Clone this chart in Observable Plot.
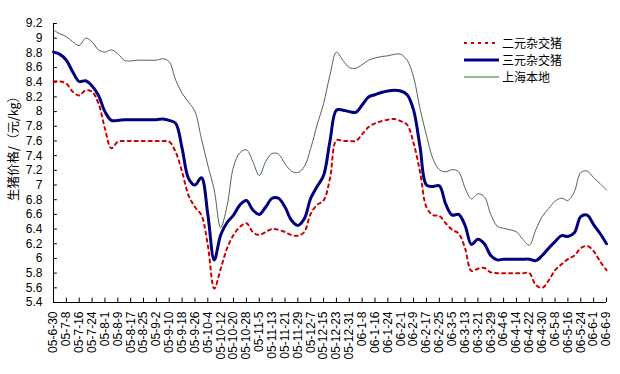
<!DOCTYPE html>
<html><head><meta charset="utf-8">
<script src="https://cdn.jsdelivr.net/npm/d3@7"></script>
<script src="https://cdn.jsdelivr.net/npm/@observablehq/plot@0.6"></script>
<style>
body{margin:0;background:#fff}
#wrap{position:relative;width:620px;height:374px}
.leg{position:absolute;left:464px;top:34px;font-family:"Noto Sans CJK SC";font-size:12px;color:#000}
.leg .r{position:absolute;left:0;height:17px;white-space:nowrap}
.leg svg{position:absolute;left:0;top:5px}
.leg span{position:absolute;left:38px;top:0;line-height:17px;height:17px}
</style>
</head><body><div id="wrap"></div>
<script>
// x tick labels (every 8 days); data points every 4 days (2 per label)
const labels = ["05-6-30","05-7-8","05-7-16","05-7-24","05-8-1","05-8-9","05-8-17","05-8-25","05-9-2","05-9-10","05-9-18","05-9-26","05-10-4","05-10-12","05-10-20","05-10-28","05-11-5","05-11-13","05-11-21","05-11-29","05-12-7","05-12-15","05-12-23","05-12-31","06-1-8","06-1-16","06-1-24","06-2-1","06-2-9","06-2-17","06-2-25","06-3-5","06-3-13","06-3-21","06-3-29","06-4-6","06-4-14","06-4-22","06-4-30","06-5-8","06-5-16","06-5-24","06-6-1","06-6-9"];
const seriesNames = ["二元杂交猪","三元杂交猪","上海本地"];
const erYuan = [8.41,8.41,8.38,8.27,8.22,8.29,8.27,8.11,7.77,7.50,7.59,7.60,7.60,7.60,7.60,7.60,7.60,7.60,7.59,7.45,7.18,6.86,6.70,6.59,6.18,5.59,5.86,6.14,6.32,6.43,6.48,6.36,6.32,6.36,6.40,6.39,6.36,6.32,6.31,6.36,6.61,6.73,6.79,7.09,7.61,7.60,7.60,7.60,7.69,7.79,7.84,7.87,7.89,7.90,7.87,7.82,7.57,7.18,6.70,6.59,6.58,6.48,6.39,6.34,6.14,5.83,5.86,5.87,5.81,5.80,5.80,5.80,5.80,5.80,5.80,5.64,5.60,5.70,5.84,5.92,5.99,6.04,6.14,6.17,6.10,5.96,5.84];
const sanYuan = [8.81,8.78,8.70,8.54,8.41,8.42,8.35,8.22,8.00,7.88,7.88,7.89,7.89,7.89,7.89,7.89,7.89,7.90,7.88,7.84,7.50,7.09,7.00,7.10,6.60,5.98,6.32,6.49,6.59,6.73,6.79,6.66,6.60,6.70,6.82,6.82,6.70,6.52,6.45,6.54,6.82,6.98,7.13,7.60,8.02,8.02,8.00,7.99,8.09,8.20,8.23,8.26,8.28,8.29,8.28,8.23,8.02,7.52,7.00,6.98,6.99,6.74,6.59,6.60,6.45,6.19,6.26,6.20,6.04,5.98,5.99,5.99,5.99,5.99,5.99,5.97,6.04,6.14,6.23,6.31,6.30,6.35,6.57,6.59,6.46,6.34,6.20];
const shanghai = [9.11,9.06,9.02,8.95,8.90,9.00,8.95,8.84,8.81,8.84,8.79,8.70,8.69,8.70,8.70,8.70,8.70,8.72,8.68,8.43,8.25,8.13,8.00,7.63,7.27,6.93,6.42,6.72,7.25,7.44,7.48,7.32,7.13,7.32,7.43,7.42,7.29,7.19,7.17,7.25,7.50,7.82,8.11,8.50,8.81,8.70,8.60,8.59,8.64,8.70,8.73,8.75,8.76,8.78,8.78,8.70,8.47,8.04,7.68,7.36,7.21,7.18,7.21,7.18,6.96,6.81,6.88,6.84,6.60,6.44,6.41,6.39,6.36,6.26,6.18,6.39,6.57,6.68,6.78,6.82,6.79,6.91,7.17,7.19,7.10,7.02,6.93];
const yTicks = d3.range(27, 47).map(d => d / 5);

const row = arr => arr.map((v, j) => ({j, v}));
const tickIdx = labels.map((_, i) => i * 2);
const nLast = erYuan.length - 1;

const chart = Plot.plot({
  width: 620, height: 374,
  marginLeft: 53, marginRight: 14, marginTop: 23, marginBottom: 72,
  style: {fontFamily: "Liberation Sans", fontSize: "12px", background: "#fff", color: "#000", overflow: "visible"},
  x: {domain: [0, nLast]},
  y: {domain: [5.4, 9.2]},
  marks: [
    Plot.axisY({ticks: yTicks, tickSize: 0, tickPadding: 11, tickFormat: d3.format("~g"), label: null, fontSize: 12}),
    Plot.axisX({ticks: tickIdx, tickSize: 0, tickPadding: 9, tickRotate: -90, tickFormat: j => labels[j / 2], label: null, fontSize: 12}),
    Plot.ruleY(yTicks, {y: d => d, x1: 0, x2: 0.6, stroke: "#000"}),
    Plot.ruleX(tickIdx, {x: d => d, y1: 5.4, y2: 5.46, stroke: "#000"}),
    Plot.ruleX([0], {stroke: "#000"}),
    Plot.ruleY([5.4], {stroke: "#000"}),
    Plot.line(row(shanghai), {x: "j", y: "v", stroke: "#4a6a4a", strokeWidth: 1, curve: "catmull-rom"}),
    Plot.line(row(erYuan), {x: "j", y: "v", stroke: "#cc0000", strokeWidth: 2, strokeDasharray: "3,4", curve: "catmull-rom"}),
    Plot.line(row(sanYuan), {x: "j", y: "v", stroke: "#000080", strokeWidth: 3, curve: "catmull-rom"}),
    Plot.text(["生猪价格/（元/kg）"], {frameAnchor: "left", rotate: -90, dx: -40, dy: 38, fontFamily: "Noto Sans CJK SC", fontSize: 12.5, fill: "#000"})
  ]
});
const wrap = document.getElementById("wrap");
wrap.appendChild(chart);

const legend = document.createElement("div");
legend.className = "leg";
const styles = [
  {stroke: "#cc0000", w: 2, dash: "3,4"},
  {stroke: "#000080", w: 3, dash: null},
  {stroke: "#2f6b2f", w: 1, dash: null}
];
seriesNames.forEach((name, i) => {
  const s = styles[i];
  const r = document.createElement("div");
  r.className = "r";
  r.style.top = (i * 17) + "px";
  r.innerHTML = `<svg width="35" height="8"><line x1="0" x2="35" y1="4" y2="4" stroke="${s.stroke}" stroke-width="${s.w}" ${s.dash ? `stroke-dasharray="${s.dash}"` : ""}/></svg><span>${name}</span>`;
  legend.appendChild(r);
});
wrap.appendChild(legend);
</script>
</body></html>
